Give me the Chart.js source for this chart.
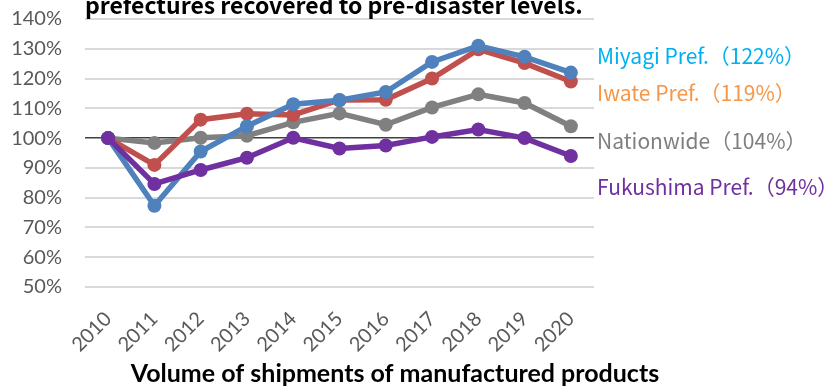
<!DOCTYPE html>
<html>
<head>
<meta charset="utf-8">
<script src="https://cdn.jsdelivr.net/npm/chart.js@4.4.1/dist/chart.umd.min.js"></script>
<style>
  html, body { margin: 0; padding: 0; background: #fff; }
  #wrap { width: 827px; height: 386px; position: relative; }
</style>
</head>
<body>
<div id="wrap"><canvas id="chartEnvios" width="827" height="386"></canvas></div>
<script>
// años del eje x
const ANIOS = ['2010','2011','2012','2013','2014','2015','2016','2017','2018','2019','2020'];

// volumen de envios de productos manufacturados, 2010 = 100%
const MIYAGI    = [100, 77.3, 95.5, 104.0, 111.4, 112.7, 115.5, 125.6, 131.0, 127.3, 122];
const IWATE     = [100, 91.0, 106.2, 108.2, 107.8, 112.8, 112.9, 120.0, 129.8, 125.2, 119];
const NACIONAL  = [100, 98.4, 100.1, 100.8, 105.3, 108.3, 104.5, 110.3, 114.7, 111.8, 104];
const FUKUSHIMA = [100, 84.6, 89.3, 93.4, 100.1, 96.5, 97.5, 100.4, 102.9, 100.0, 94];

const NOMBRES = ['Miyagi Pref.', 'Iwate Pref.', 'Nationwide', 'Fukushima Pref.'];

// ticks del eje y
const Y_MIN = 50, Y_MAX = 140, Y_PASO = 10;

const TITULO = 'prefectures recovered to pre-disaster levels.';
const TITULO_EJE_X = 'Volume of shipments of manufactured products';

// colores de las lineas y de las etiquetas de la derecha
const COLOR_LINEA = { miyagi: '#4f81bd', iwate: '#c0504d', nacional: '#808080', fukushima: '#7030a0' };
const COLOR_ETIQ  = { miyagi: '#00b0f0', iwate: '#f79646', nacional: '#7f7f7f', fukushima: '#7030a0' };

const FUENTE_EJES = 'Lato, "Open Sans", sans-serif';
const FUENTE_JP = '"Noto Sans CJK JP", "Noto Sans", sans-serif';

function serie(label, data, color) {
  return {
    label, data,
    borderColor: color, backgroundColor: color,
    borderWidth: 5.5, pointRadius: 7, pointHoverRadius: 7,
    pointBorderWidth: 0, tension: 0,
  };
}

// titulo cortado arriba, titulo del eje x y etiquetas con el ultimo valor a la derecha
const textosExtra = {
  id: 'textosExtra',
  afterDraw(chart) {
    const { ctx, chartArea, scales } = chart;
    ctx.save();
    ctx.font = 'bold 23px ' + FUENTE_JP;
    ctx.fillStyle = '#000';
    ctx.textBaseline = 'alphabetic';
    ctx.textAlign = 'left';
    ctx.fillText(TITULO, chartArea.left, chartArea.top - 5);

    // el titulo del eje x va centrado un poco a la derecha del area del grafico
    ctx.font = 'bold 25px ' + FUENTE_EJES;
    ctx.textAlign = 'center';
    ctx.textBaseline = 'middle';
    ctx.fillText(TITULO_EJE_X, chartArea.left + 310, chart.height - 12);

    // valor (en %) donde va centrada cada etiqueta
    const alturas = [127.5, 115.0, 99.0, 83.5];
    const colores = [COLOR_ETIQ.miyagi, COLOR_ETIQ.iwate, COLOR_ETIQ.nacional, COLOR_ETIQ.fukushima];
    const series = [MIYAGI, IWATE, NACIONAL, FUKUSHIMA];
    ctx.font = '21px ' + FUENTE_JP;
    ctx.textAlign = 'left';
    series.forEach((s, i) => {
      const ultimo = Math.round(s[s.length - 1]);
      ctx.fillStyle = colores[i];
      ctx.fillText(`${NOMBRES[i]}（${ultimo}%）`, chartArea.right + 3, scales.y.getPixelForValue(alturas[i]));
    });
    ctx.restore();
  }
};

new Chart(document.getElementById('chartEnvios'), {
  type: 'line',
  data: {
    labels: ANIOS,
    // el primero queda encima
    datasets: [
      serie(NOMBRES[3], FUKUSHIMA, COLOR_LINEA.fukushima),
      serie(NOMBRES[0], MIYAGI, COLOR_LINEA.miyagi),
      serie(NOMBRES[1], IWATE, COLOR_LINEA.iwate),
      serie(NOMBRES[2], NACIONAL, COLOR_LINEA.nacional),
    ]
  },
  options: {
    responsive: false,
    animation: false,
    devicePixelRatio: 1,
    layout: { padding: { top: 19, right: 233, left: 0, bottom: 0 } },
    plugins: { legend: { display: false }, tooltip: { enabled: false }, title: { display: false } },
    scales: {
      x: {
        offset: true,
        grid: { display: false },
        border: { display: false },
        ticks: { color: '#595959', font: { family: FUENTE_EJES, size: 20 }, minRotation: 45, maxRotation: 45, padding: 12 },
        afterFit(s) { s.height = 99; s.paddingTop = 0; }
      },
      y: {
        min: Y_MIN, max: Y_MAX,
        border: { display: false },
        grid: {
          drawTicks: false,
          color: (c) => c.tick.value === 100 ? '#404040' : '#d9d9d9',
          lineWidth: (c) => c.tick.value === 100 ? 1.5 : 2,
        },
        ticks: {
          stepSize: Y_PASO, color: '#595959', padding: 23,
          font: { family: FUENTE_EJES, size: 20 },
          callback: (v) => v + '%'
        },
        afterFit(s) { s.width = 85; s.paddingTop = 0; s.paddingBottom = 0; }
      }
    }
  },
  plugins: [textosExtra]
});
</script>
</body>
</html>
